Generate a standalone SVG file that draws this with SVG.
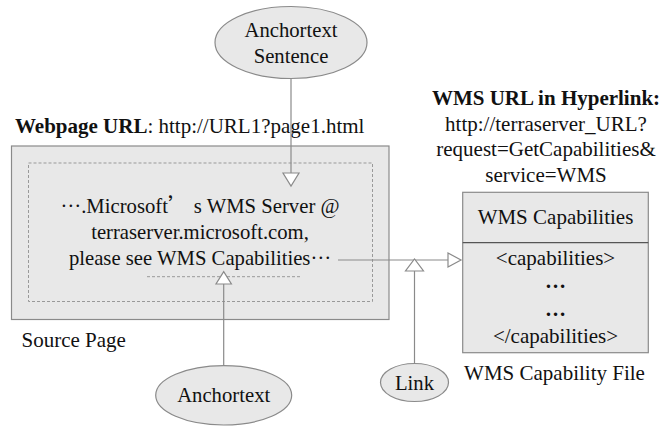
<svg xmlns="http://www.w3.org/2000/svg" width="672" height="433" viewBox="0 0 672 433">
<defs>
<style>
text{font-family:"Liberation Serif","Times New Roman",serif;fill:#111;}
.t20{font-size:20.7px;}
.t18{font-size:21px;}
.cjk{font-family:"Noto Sans CJK SC","Liberation Serif",sans-serif;}
.node{fill:#e8e8e8;stroke:#8a8a8a;stroke-width:1.2;}
.dash{fill:none;stroke:#999;stroke-width:1;stroke-dasharray:3,2;}
.con{fill:none;stroke:#8a8a8a;stroke-width:1.2;}
.head{fill:#fff;stroke:#8a8a8a;stroke-width:1.2;}
</style>
</defs>
<rect width="672" height="433" fill="#fff"/>

<g id="anchortext-sentence">
<ellipse class="node" cx="291" cy="42.5" rx="76" ry="36"/>
<text class="t20" x="291" y="37" text-anchor="middle">Anchortext</text>
<text class="t20" x="291" y="63" text-anchor="middle">Sentence</text>
</g>

<g id="source-page">
<text class="t18" x="15" y="133"><tspan font-weight="bold">Webpage URL</tspan>: http://URL1?page1.html</text>
<rect class="node" x="11.5" y="146" width="377.5" height="173.5"/>
<rect class="dash" x="28.5" y="163" width="344" height="138.5"/>
<text class="t20" x="200" y="213" text-anchor="middle"><tspan dy="-6">…</tspan><tspan dy="6">.Microsoft</tspan><tspan class="cjk">’</tspan> s WMS Server @</text>
<text class="t20" x="200" y="239" text-anchor="middle">terraserver.microsoft.com,</text>
<text class="t20" x="200" y="265" text-anchor="middle">please see WMS Capabilities<tspan dy="-6">…</tspan></text>
<line class="dash" x1="147" y1="276.7" x2="300" y2="276.7"/>
<text class="t18" x="21.5" y="347">Source Page</text>
</g>

<g id="wms-url">
<text class="t18" x="546" y="105" text-anchor="middle" font-weight="bold">WMS URL in Hyperlink:</text>
<text class="t18" x="546" y="130.5" text-anchor="middle">http://terraserver_URL?</text>
<text class="t18" x="546" y="156" text-anchor="middle">request=GetCapabilities&amp;</text>
<text class="t18" x="546" y="181.5" text-anchor="middle">service=WMS</text>
</g>

<g id="capability-file">
<rect class="node" x="462.7" y="192.3" width="185.6" height="160.4"/>
<line x1="462.7" y1="242.7" x2="648.3" y2="242.7" stroke="#555" stroke-width="1.2"/>
<text class="t18" x="555.5" y="223.5" text-anchor="middle">WMS Capabilities</text>
<text class="t18" x="555.5" y="265" text-anchor="middle">&lt;capabilities&gt;</text>
<text class="t18" x="555.5" y="288" text-anchor="middle" font-weight="bold">…</text>
<text class="t18" x="555.5" y="316" text-anchor="middle" font-weight="bold">…</text>
<text class="t18" x="555.5" y="343" text-anchor="middle">&lt;/capabilities&gt;</text>
<text class="t18" x="554.5" y="380" text-anchor="middle">WMS Capability File</text>
</g>

<g id="anchortext">
<ellipse class="node" cx="223.7" cy="395.3" rx="68" ry="29.7"/>
<text class="t20" x="223.7" y="402" text-anchor="middle">Anchortext</text>
</g>

<g id="link">
<ellipse class="node" cx="414.5" cy="382.5" rx="34" ry="19"/>
<text class="t20" x="414.5" y="390" text-anchor="middle">Link</text>
</g>

<g id="connectors">
<line class="con" x1="291" y1="78.5" x2="291" y2="173"/>
<polygon class="head" points="283,173 299,173 291,186"/>
<line class="con" x1="223.7" y1="365.6" x2="223.7" y2="284"/>
<polygon class="head" points="216,284 231.4,284 223.7,271.7"/>
<line class="con" x1="338" y1="260" x2="448" y2="260"/>
<polygon class="head" points="448,253 448,267 461,260"/>
<line class="con" x1="414.5" y1="363.5" x2="414.5" y2="271"/>
<polygon class="head" points="405.5,271 423.5,271 414.5,259"/>
</g>
</svg>
